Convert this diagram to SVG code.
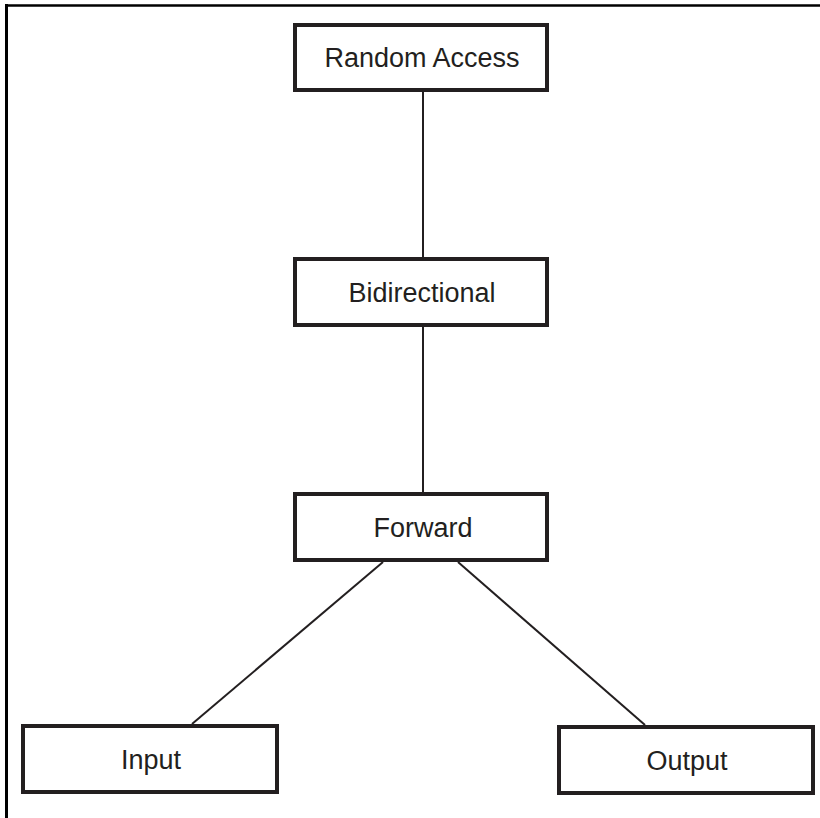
<svg xmlns="http://www.w3.org/2000/svg" width="820" height="818" viewBox="0 0 820 818">
  <style>
    .box { fill: #ffffff; stroke: #231f20; stroke-width: 4; }
    .label { font-family: "Liberation Sans", Arial, sans-serif; font-size: 27px; fill: #231f20; text-anchor: middle; }
    .edge { stroke: #231f20; stroke-width: 2; fill: none; }
    .frame { stroke: #000000; fill: none; }
  </style>
  <rect x="0" y="0" width="820" height="818" fill="#ffffff"/>
  <!-- partial frame: left and top rules -->
  <g id="frame">
    <line class="frame" x1="6.5" y1="4" x2="6.5" y2="818" stroke-width="3"/>
    <line class="frame" x1="5" y1="5.5" x2="820" y2="5.5" stroke-width="2.5"/>
  </g>
  <g id="connectors">
    <line class="edge" x1="423" y1="92" x2="423" y2="257"/>
    <line class="edge" x1="423" y1="327" x2="423" y2="492"/>
    <line class="edge" x1="383" y1="562" x2="192" y2="724"/>
    <line class="edge" x1="458" y1="562" x2="645" y2="725"/>
  </g>
  <g id="random-access">
    <rect class="box" x="295" y="25" width="252" height="65"/>
    <text class="label" x="422" y="67">Random Access</text>
  </g>
  <g id="bidirectional">
    <rect class="box" x="295" y="259" width="252" height="66"/>
    <text class="label" x="422" y="302">Bidirectional</text>
  </g>
  <g id="forward">
    <rect class="box" x="295" y="494" width="252" height="66"/>
    <text class="label" x="423" y="537">Forward</text>
  </g>
  <g id="input">
    <rect class="box" x="23" y="726" width="254" height="66"/>
    <text class="label" x="151" y="769">Input</text>
  </g>
  <g id="output">
    <rect class="box" x="559" y="727" width="254" height="66"/>
    <text class="label" x="687" y="770">Output</text>
  </g>
</svg>
